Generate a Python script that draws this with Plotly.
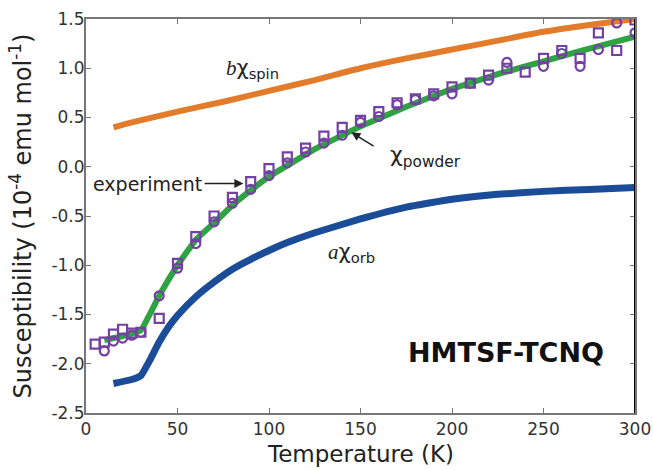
import plotly.graph_objects as go

# ---- data ----
T_spin = [15, 25, 50, 75, 100, 125, 150, 175, 200, 225, 250, 275, 300]
chi_spin = [0.40, 0.45, 0.56, 0.66, 0.77, 0.88, 1.00, 1.10, 1.19, 1.28, 1.37, 1.44, 1.50]

T_orb = [15, 25, 30, 35, 40, 45, 50, 60, 70, 80, 90, 100, 110, 125, 150, 175, 200, 225, 250, 275, 300]
chi_orb = [-2.20, -2.16, -2.12, -1.96, -1.78, -1.63, -1.51, -1.32, -1.17, -1.04, -0.94, -0.85, -0.77,
           -0.67, -0.53, -0.41, -0.33, -0.28, -0.25, -0.23, -0.21]

T_pow = [10, 20, 30, 40, 50, 60, 70, 80, 90, 100, 125, 150, 175, 200, 225, 250, 275, 300]
chi_pow = [-1.76, -1.72, -1.66, -1.31, -1.00, -0.74, -0.57, -0.39, -0.24, -0.10, 0.18, 0.41, 0.61,
           0.79, 0.94, 1.07, 1.20, 1.32]

T_sq = [5, 10, 15, 20, 25, 30, 40, 50, 60, 70, 80, 90, 100, 110, 120, 130, 140, 150, 160, 170, 180,
        190, 200, 210, 220, 230, 240, 250, 260, 270, 280, 290, 300]
chi_sq = [-1.80, -1.78, -1.70, -1.65, -1.69, -1.68, -1.54, -0.98, -0.71, -0.50, -0.31, -0.15, -0.02,
          0.10, 0.19, 0.31, 0.40, 0.47, 0.56, 0.65, 0.69, 0.74, 0.81, 0.85, 0.93, 1.00, 0.96, 1.10,
          1.18, 1.10, 1.36, 1.18, 1.49]

T_ci = [10, 15, 20, 25, 30, 40, 50, 60, 70, 80, 90, 100, 110, 120, 130, 140, 150, 160, 170, 180,
        190, 200, 210, 220, 230, 250, 260, 270, 280, 290, 300]
chi_ci = [-1.87, -1.77, -1.74, -1.71, -1.68, -1.31, -1.03, -0.78, -0.56, -0.37, -0.23, -0.09, 0.04,
          0.15, 0.24, 0.32, 0.45, 0.51, 0.63, 0.68, 0.72, 0.74, 0.85, 0.88, 1.06, 1.02, 1.15, 1.02,
          1.19, 1.46, 1.36]

x_ticks = [0, 50, 100, 150, 200, 250, 300]
y_ticks = [-2.5, -2.0, -1.5, -1.0, -0.5, 0.0, 0.5, 1.0, 1.5]

ORANGE = "#E27B2A"
GREEN = "#2FA343"
BLUE = "#1B4C97"
PURPLE = "#7440A3"

fig = go.Figure()
fig.add_trace(go.Scatter(x=T_spin, y=chi_spin, mode="lines",
                         line=dict(color=ORANGE, width=6, shape="spline", smoothing=0.6),
                         showlegend=False))
fig.add_trace(go.Scatter(x=T_orb, y=chi_orb, mode="lines",
                         line=dict(color=BLUE, width=7, shape="spline", smoothing=0.4),
                         showlegend=False))
fig.add_trace(go.Scatter(x=T_pow, y=chi_pow, mode="lines",
                         line=dict(color=GREEN, width=6, shape="spline", smoothing=0.25),
                         showlegend=False))
fig.add_trace(go.Scatter(x=T_ci, y=chi_ci, mode="markers",
                         marker=dict(symbol="circle-open", size=9, color=PURPLE,
                                     line=dict(width=2.2, color=PURPLE)), showlegend=False))
fig.add_trace(go.Scatter(x=T_sq, y=chi_sq, mode="markers",
                         marker=dict(symbol="square-open", size=9, color=PURPLE,
                                     line=dict(width=2.2, color=PURPLE)), showlegend=False))

FONT = "DejaVu Sans, sans-serif"

fig.update_layout(
    width=653, height=470,
    margin=dict(l=86, r=18, t=19, b=57),
    paper_bgcolor="white", plot_bgcolor="white",
    font=dict(family=FONT, color="#222"),
    xaxis=dict(range=[0, 300], tickvals=x_ticks, ticktext=[str(v) for v in x_ticks],
               ticks="inside", ticklen=5, tickcolor="#777", showgrid=False, zeroline=False,
               showline=True, linecolor="#777", linewidth=2, mirror="ticks", automargin=False,
               tickfont=dict(size=17, family=FONT, color="#333")),
    yaxis=dict(range=[-2.5, 1.5], tickvals=y_ticks, ticktext=[f"{v:.1f}" for v in y_ticks],
               ticks="inside", ticklen=5, tickcolor="#777", showgrid=False, zeroline=False,
               showline=True, linecolor="#777", linewidth=2, mirror="ticks", automargin=False,
               ticklabelstandoff=-4,
               tickfont=dict(size=17, family=FONT, color="#333"),
               title=dict(text="Susceptibility (10<sup>-4</sup> emu mol<sup>-1</sup>)",
                          font=dict(size=24, family=FONT, color="#222"), standoff=13)),
)

# x-axis title placed as a paper annotation so it sits as low as in the reference
fig.add_annotation(x=0.5, y=-0.103, xref="paper", yref="paper", showarrow=False,
                   xanchor="center", yanchor="middle", text="Temperature (K)",
                   font=dict(size=23, family=FONT, color="#222"))

# right axis line black
fig.add_shape(type="line", xref="x", yref="paper", x0=300, x1=300, y0=0, y1=1,
              line=dict(color="black", width=2))

# text annotations
fig.add_annotation(x=91, y=0.99, xref="x", yref="y", showarrow=False, xanchor="center",
                   text="<i><span style='font-family:Liberation Serif'>b</span></i>χ<sub>spin</sub>",
                   font=dict(size=21, family=FONT, color="#222"))
fig.add_annotation(x=145, y=-0.88, xref="x", yref="y", showarrow=False, xanchor="center",
                   text="<i><span style='font-family:Liberation Serif'>a</span></i>χ<sub>orb</sub>",
                   font=dict(size=21, family=FONT, color="#222"))
fig.add_annotation(x=229.5, y=-1.89, xref="x", yref="y", showarrow=False, xanchor="center",
                   text="<b>HMTSF-TCNQ</b>",
                   font=dict(size=27, family=FONT, color="#111"))
# experiment label with arrow
fig.add_annotation(x=3, y=-0.17, xref="x", yref="y", showarrow=False, xanchor="left",
                   text="experiment", font=dict(size=19, family=FONT, color="#222"))
fig.add_annotation(x=86, y=-0.17, ax=64, ay=-0.17, xref="x", yref="y", axref="x", ayref="y",
                   showarrow=True, arrowhead=2, arrowsize=1.2, arrowwidth=1.5, arrowcolor="#222",
                   text="")
# chi_powder label with arrow
fig.add_annotation(x=165, y=0.10, xref="x", yref="y", showarrow=False, xanchor="left",
                   text="χ<sub>powder</sub>", font=dict(size=22, family=FONT, color="#222"))
fig.add_annotation(x=145, y=0.35, ax=158, ay=0.20, xref="x", yref="y", axref="x", ayref="y",
                   showarrow=True, arrowhead=2, arrowsize=1.2, arrowwidth=1.5, arrowcolor="#222",
                   text="")

# remove the default 8px page margin so the 653x470 figure fills the window exactly
fig.write_html("out.html", config={"displayModeBar": False},
               post_script="document.body.style.margin='0';")
